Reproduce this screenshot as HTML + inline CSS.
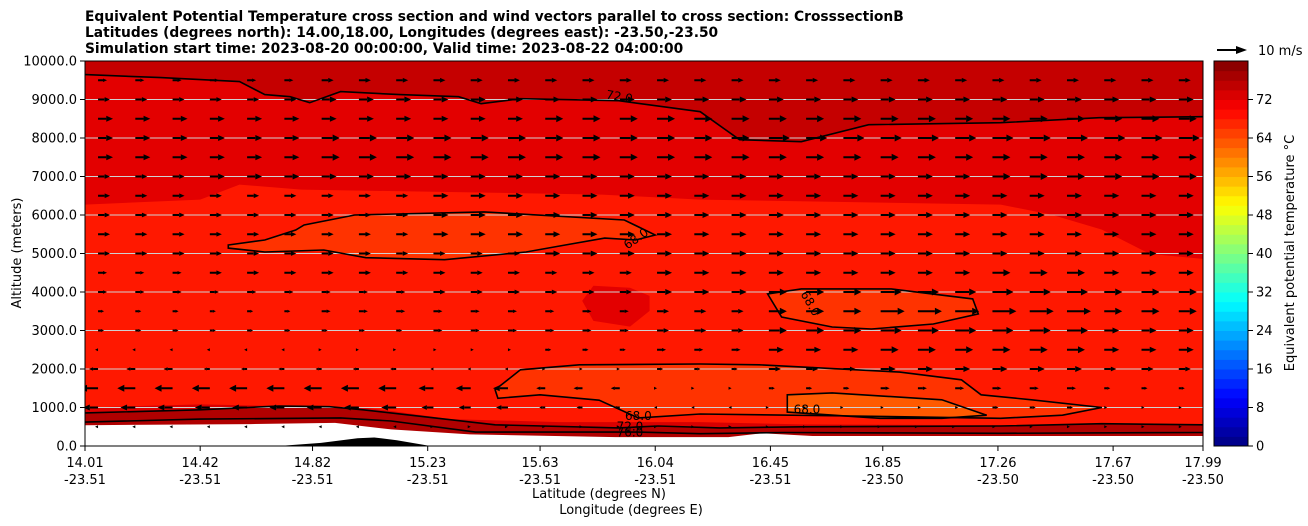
<!DOCTYPE html>
<html><head><meta charset="utf-8"><style>
html,body{margin:0;padding:0;background:#fff;width:1308px;height:526px;overflow:hidden}
svg text{font-family:"DejaVu Sans","Liberation Sans",sans-serif}
</style></head><body>
<svg id="svg" width="1308" height="526" xmlns="http://www.w3.org/2000/svg">
<defs><clipPath id="plotclip"><rect x="85" y="61" width="1118" height="385"/></clipPath></defs>
<g font-size="13.8" font-weight="bold" fill="#000">
<text x="85" y="21">Equivalent Potential Temperature cross section and wind vectors parallel to cross section: CrosssectionB</text>
<text x="85" y="37">Latitudes (degrees north): 14.00,18.00, Longitudes (degrees east): -23.50,-23.50</text>
<text x="85" y="53">Simulation start time: 2023-08-20 00:00:00, Valid time: 2023-08-22 04:00:00</text>
</g>
<g id="field" clip-path="url(#plotclip)"></g>
<g id="grid"></g>
<g id="contours" clip-path="url(#plotclip)"></g>
<g id="arrows" clip-path="url(#plotclip)"></g>
<rect x="85" y="61" width="1118" height="385" fill="none" stroke="#000" stroke-width="1"/>
<g id="axes" font-size="13"></g>
<g id="cbar"></g>
<g>
<line x1="1217" y1="50" x2="1238" y2="50" stroke="#000" stroke-width="2"/>
<polygon points="1236,46 1247,50 1236,54" fill="#000"/>
<text x="1258" y="55" font-size="13">10 m/s</text>
</g>
<text font-size="13" transform="translate(21,253) rotate(-90)" text-anchor="middle">Altitude (meters)</text>
<text font-size="13" x="599" y="498" text-anchor="middle">Latitude (degrees N)</text>
<text font-size="13" x="631" y="514" text-anchor="middle">Longitude (degrees E)</text>
<text font-size="13" transform="translate(1294,253) rotate(-90)" text-anchor="middle">Equivalent potential temperature °C</text>
</svg>
<script>
const NS="http://www.w3.org/2000/svg";
const latTicks=["14.01","14.42","14.82","15.23","15.63","16.04","16.45","16.85","17.26","17.67","17.99"];
const lonTicks=["-23.51","-23.51","-23.51","-23.51","-23.51","-23.51","-23.51","-23.50","-23.50","-23.50","-23.50"];
const altTicks=[0,1000,2000,3000,4000,5000,6000,7000,8000,9000,10000];
const cbarTicks=[0,8,16,24,32,40,48,56,64,72];
const windAlts=[9500,9000,8500,8000,7500,7000,6500,6000,5500,5000,4500,4000,3500,3000,2500,2000,1500,1000,500];
const windU=[
[3,3,4,4,4,4,4,4,4,4],
[4,4,5,5,5,5,5,5,5,5],
[5,5,5,5,6,6,6,6,6,6],
[5,5,6,6,6,6,7,7,7,7],
[5,5,6,6,6,6,6,6,6,6],
[4,5,5,5,5,5,5,5,6,6],
[4,4,4,5,5,5,5,5,5,5],
[4,4,4,5,5,5,5,5,5,5],
[4,4,4,5,5,5,5,5,5,5],
[4,4,4,4,5,5,5,5,5,5],
[3,4,4,4,4,5,5,5,6,5],
[3,3,3,4,4,5,6,7,7,6],
[2,2,3,3,3,4,6,8,8,6],
[2,2,2,3,3,4,6,7,7,5],
[-1,-1,0,1,2,3,5,6,6,5],
[-3,-2,-2,-1,0,2,4,5,5,4],
[-6,-6,-6,-5,-3,0,2,3,3,2],
[-5,-5,-5,-4,-2,-1,0,1,2,1],
[-1,-1,-1,0,0,0,0,0,1,1]];
const topDark=[[14.01,9646],[14.28,9568],[14.56,9464],[14.65,9126],[14.74,9074],[14.81,8918],[14.92,9204],[15.13,9126],[15.34,9074],[15.42,8892],[15.56,9022],[15.91,8970],[16.20,8684],[16.34,7956],[16.56,7904],[16.80,8346],[17.27,8398],[17.62,8528],[17.99,8554]];
const upperRed=[[14.01,6270],[14.42,6400],[14.56,6790],[14.78,6660],[15.85,6530],[16.20,6400],[17.27,6270],[17.45,6010],[17.63,5620],[17.80,4990],[17.99,4860]];
const midPatch=[[15.82,4160],[15.95,4110],[16.02,3900],[16.02,3510],[15.95,3100],[15.82,3250],[15.78,3770]];
const blobA=[[14.52,5220],[14.65,5350],[14.76,5610],[14.79,5740],[14.97,6000],[15.43,6080],[15.93,5870],[16.04,5480],[15.97,5350],[15.86,5400],[15.72,5220],[15.58,5040],[15.29,4840],[15.01,4890],[14.86,5090],[14.65,5040],[14.52,5140]];
const blobB=[[16.44,3950],[16.56,4080],[16.88,4080],[17.17,3820],[17.19,3430],[17.03,3170],[16.81,3040],[16.67,3090],[16.49,3350]];
const blobC=[[15.47,1460],[15.56,1980],[15.77,2110],[16.20,2130],[16.41,2110],[16.91,1920],[17.13,1720],[17.20,1330],[17.38,1200],[17.63,1000],[17.49,800],[17.27,720],[16.74,780],[16.20,830],[15.98,730],[15.84,1190],[15.63,1330],[15.48,1240]];
const blobD=[[16.51,1330],[16.67,1380],[17.06,1200],[17.22,800],[17.06,720],[16.84,720],[16.51,880]];
const band1=[[14.01,1000],[14.42,1080],[14.70,1040],[14.88,1020],[15.0,1000],[15.11,900],[15.31,700],[15.70,620],[16.20,620],[16.56,560],[17.27,540],[17.99,560],[17.99,0],[14.01,0]];
const contHi=[[14.01,860],[14.42,940],[14.70,1040],[14.88,1020],[15.0,940],[15.47,550],[15.91,470],[16.05,520],[16.27,470],[16.56,500],[17.27,520],[17.63,580],[17.99,550]];
const contLo=[[14.01,620],[14.42,700],[14.92,730],[15.1,650],[15.4,360],[15.98,360],[16.20,320],[16.5,350],[17.27,330],[17.99,350]];
const terrain=[[14.01,540],[14.60,570],[14.90,600],[15.10,430],[15.38,300],[15.90,230],[16.30,230],[16.42,330],[16.60,260],[17.99,260],[17.99,0],[14.01,0]];
const hill=[[14.70,0],[14.85,80],[14.98,200],[15.04,220],[15.12,150],[15.24,0]];
const X=l=>85+(l-14.01)/(17.99-14.01)*1118;
const Y=a=>446-a/10000*385;
function mk(t,attrs,parent){const e=document.createElementNS(NS,t);for(const k in attrs)e.setAttribute(k,attrs[k]);parent.appendChild(e);return e;}
const pts=arr=>arr.map(p=>X(p[0]).toFixed(1)+","+Y(p[1]).toFixed(1)).join(" ");
const F=document.getElementById('field');
let r=mk('rect',{x:85,y:61,width:1118,height:385,fill:'#ff1800'},F);


let p;
p=mk('polygon',{points:pts([[14.01,10000]].concat(upperRed).concat([[17.99,10000]])),fill:'#e30000'},F);

p=mk('polygon',{points:pts([[14.01,10000]].concat(topDark).concat([[17.99,10000]])),fill:'#c50000'},F);

p=mk('polygon',{points:pts(midPatch),fill:'#e30000'},F);

[blobA,blobB,blobC].forEach((b,i)=>{p=mk('polygon',{points:pts(b),fill:'#ff3300'},F);
});
p=mk('polygon',{points:pts(blobD),fill:'#ff5a00'},F);

p=mk('polygon',{points:pts(band1),fill:'#d80000'},F);

p=mk('polygon',{points:pts(contHi.concat([[17.99,0],[14.01,0]])),fill:'#b00000'},F);

p=mk('polygon',{points:pts(terrain),fill:'#ffffff'},F);

p=mk('polygon',{points:pts(hill),fill:'#000'},F);

const G=document.getElementById('grid');
altTicks.forEach(a=>{if(a>0&&a<10000){let l=mk('line',{x1:85,x2:1203,y1:Y(a),y2:Y(a),stroke:'#d0d0d0','stroke-width':1},G);
}});
const C=document.getElementById('contours');
[[topDark,false],[blobA,true],[blobB,true],[blobC,true],[blobD,true],[contHi,false],[contLo,false]].forEach(c=>{
let e=mk(c[1]?'polygon':'polyline',{points:pts(c[0]),fill:'none',stroke:'#000','stroke-width':1.6},C);
});
[["72.0",15.91,8970,10],["68.0",15.98,5300,-35],["68.0",16.58,3650,60],["68.0",15.98,680,0],["68.0",16.58,850,0],["72.0",15.95,400,0],["76.0",15.95,250,0]].forEach(t=>{
let e=mk('text',{x:X(t[1]),y:Y(t[2]),'font-size':12,'text-anchor':'middle',transform:`rotate(${t[3]} ${X(t[1])} ${Y(t[2])})`},C);
e.textContent=t[0];});
const A=document.getElementById('arrows');
const ncol=30,scale=3.0;
windAlts.forEach((alt,ri)=>{for(let c=0;c<ncol;c++){
const u=windU[ri][Math.floor(c/3)];
const lat=14.01+(c+0.35)*(3.98/ncol);
const x0=X(lat),y0=Y(alt),len=u*scale;
const g=mk('g',{},A);


const s=Math.sign(u)||1,L=Math.abs(len);
const hl=Math.min(7,Math.max(3,L*0.45)),hw=Math.min(3.5,Math.max(1.5,L*0.2));
const xe=x0+len;
if(L>hl) mk('line',{x1:x0,y1:y0,x2:xe-s*hl,y2:y0,stroke:'#000','stroke-width':2},g);
mk('polygon',{points:`${xe-s*hl},${y0-hw} ${xe},${y0} ${xe-s*hl},${y0+hw}`,fill:'#000'},g);
}});
const AX=document.getElementById('axes');
latTicks.forEach((t,i)=>{const x=X(parseFloat(t));
let l=mk('line',{x1:x,x2:x,y1:446,y2:451,stroke:'#000'},AX);

let e=mk('text',{x:x,y:467,'text-anchor':'middle'},AX);e.textContent=t;

e=mk('text',{x:x,y:484,'text-anchor':'middle'},AX);e.textContent=lonTicks[i];
});
altTicks.forEach(a=>{const y=Y(a);
let l=mk('line',{x1:80,x2:85,y1:y,y2:y,stroke:'#000'},AX);

let e=mk('text',{x:77,y:y+4.5,'text-anchor':'end'},AX);e.textContent=a.toFixed(1);
});
const CB=document.getElementById('cbar');
function jet(v){const c=x=>Math.round(255*Math.max(0,Math.min(1,x)));return `rgb(${c(1.5-Math.abs(4*v-3))},${c(1.5-Math.abs(4*v-2))},${c(1.5-Math.abs(4*v-1))})`;}
const cy=v=>446-v/80*385;
for(let v=0;v<80;v+=2){let b=mk('rect',{x:1214,y:cy(v+2),width:34,height:385/40+0.5,fill:jet((v+1)/80)},CB);
}
mk('rect',{x:1214,y:61,width:34,height:385,fill:'none',stroke:'#000'},CB);
cbarTicks.forEach(v=>{const y=cy(v);
let l=mk('line',{x1:1248,x2:1253,y1:y,y2:y,stroke:'#000'},CB);

let e=mk('text',{x:1256,y:y+4.5,'font-size':13},CB);e.textContent=v;
});
</script>
</body></html>
